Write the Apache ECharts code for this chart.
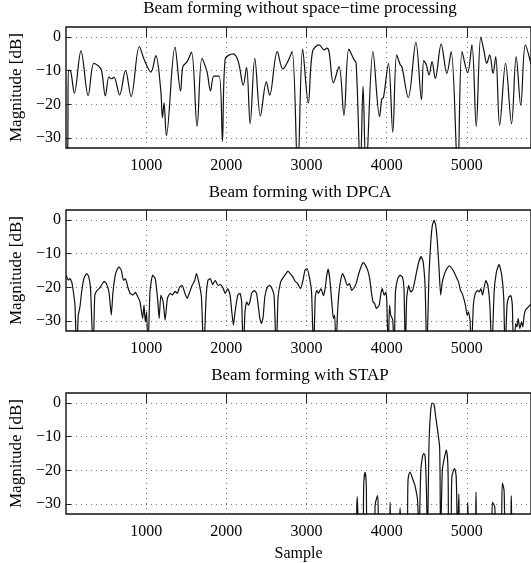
<!DOCTYPE html>
<html>
<head>
<meta charset="utf-8">
<script src="https://cdn.jsdelivr.net/npm/echarts@6/dist/echarts.min.js"></script>
<style>html,body{margin:0;padding:0;background:#fff;}#c{width:531px;height:563px;}</style>
</head>
<body>
<div id="c"></div>
<script>
const titles = [
  'Beam forming without space\u2212time processing',
  'Beam forming with DPCA',
  'Beam forming with STAP'
];
const xTicks = [1000, 2000, 3000, 4000, 5000];
const yTicks = [0, -10, -20, -30];
const xName = 'Sample';
const yName = 'Magnitude [dB]';

// [sample, dB]
const beamRaw = [[10,-40],[22,-33],[30,-9.8],[59,-10.2],[104,-16.7],[187,-4.1],[277,-17.4],[347,-7.8],[400,-8.5],[442,-9.8],[491,-17.5],[536,-11.8],[565,-12.4],[598,-11.9],[668,-17.2],[742,-10],[812,-17.7],[915,-2.8],[977,-6.8],[1059,-10.4],[1120,-5.5],[1182,-15.8],[1203,-24],[1223,-19.6],[1252,-29.3],[1359,-3],[1429,-16],[1458,-8.8],[1511,-7.3],[1565,-4.5],[1635,-26.6],[1696,-6.3],[1758,-10.3],[1803,-16],[1845,-11.6],[1910,-11.6],[1951,-31],[1985,-6.6],[2087,-5],[2149,-7.3],[2211,-14.3],[2252,-9],[2297,-25.8],[2355,-6.3],[2425,-23.5],[2499,-13.3],[2540,-17.3],[2635,-4.3],[2705,-9.5],[2766,-7.3],[2820,-4.3],[2890,-40],[2952,-3.6],[3022,-19.6],[3075,-4.3],[3158,-2.3],[3220,-3.8],[3253,-3.3],[3281,-4.3],[3335,-13.6],[3405,-8.8],[3467,-23.3],[3528,-3.6],[3590,-6.6],[3619,-7.8],[3672,-40],[3705,-14.6],[3742,-40],[3829,-4.3],[3911,-23.6],[3940,-18.3],[3960,-18],[4022,-7.8],[4076,-28.3],[4125,-5.3],[4170,-8.3],[4190,-8.8],[4269,-18],[4364,-1.6],[4434,-18.6],[4462,-7],[4495,-8.3],[4528,-11.3],[4565,-7.3],[4606,-12.3],[4680,-2.1],[4750,-10.8],[4804,-4.3],[4886,-40],[4940,-4.3],[5010,-10.6],[5063,-2.3],[5117,-26.6],[5174,0],[5215,-4.3],[5248,-7.8],[5285,-5.3],[5327,-10.8],[5360,-5.8],[5409,-26.3],[5483,-7.8],[5557,-25.8],[5615,-5.8],[5672,-20.3],[5730,-2.3],[5800,-8]];

const beamDPCA = [[0,-16.5],[9,-16.9],[30,-17.9],[50,-17.4],[71,-18.4],[92,-21.4],[112,-25.3],[133,-40],[153,-28.3],[174,-25.8],[195,-21.4],[223,-17.4],[256,-15.9],[281,-16.6],[306,-20.4],[339,-40],[359,-22.3],[388,-20.9],[413,-20.4],[442,-19.4],[475,-18.2],[503,-18.9],[536,-21.4],[565,-28.3],[586,-21.4],[619,-15.9],[660,-13.9],[689,-14.9],[717,-17.9],[742,-17.4],[771,-19.9],[800,-21.8],[833,-22.3],[866,-21.5],[895,-22.8],[923,-24.3],[956,-29.3],[973,-25.3],[989,-30.3],[1006,-27.3],[1022,-40],[1047,-21.4],[1080,-16.4],[1113,-17.4],[1142,-23.3],[1162,-29.3],[1183,-22.3],[1212,-24.3],[1236,-29.8],[1265,-23.3],[1298,-21.8],[1327,-22.3],[1360,-21.2],[1388,-21.8],[1417,-19.9],[1450,-19.4],[1483,-21.8],[1512,-23.3],[1541,-21.5],[1574,-19.4],[1607,-17.9],[1627,-15.9],[1656,-18.4],[1689,-22.8],[1718,-40],[1747,-23.3],[1771,-17.9],[1800,-17.4],[1829,-19.2],[1862,-17.9],[1895,-19.4],[1924,-19.2],[1953,-19.9],[1985,-21.8],[2018,-20.4],[2047,-22.3],[2068,-27.3],[2088,-31.3],[2109,-27.3],[2142,-22.3],[2171,-21.8],[2191,-24.3],[2212,-40],[2232,-27.3],[2253,-24.3],[2274,-25.3],[2294,-24.3],[2315,-21.8],[2348,-20.9],[2377,-21.8],[2397,-25.3],[2418,-29.3],[2438,-30.8],[2459,-28.8],[2480,-22.8],[2512,-19.9],[2541,-19.4],[2570,-20.4],[2595,-22.3],[2624,-40],[2644,-23.3],[2677,-18.4],[2706,-17.2],[2735,-16.2],[2768,-15.2],[2800,-16],[2829,-16.9],[2858,-18.2],[2890,-18.9],[2923,-20.4],[2952,-18.4],[2981,-14.9],[3006,-14.4],[3035,-16.9],[3063,-21.4],[3088,-40],[3109,-22.8],[3129,-20.9],[3150,-21.8],[3179,-20.4],[3212,-22.5],[3232,-20.4],[3253,-16.4],[3269,-14.6],[3290,-17.4],[3315,-24.3],[3335,-29.3],[3352,-28.3],[3368,-40],[3385,-28.3],[3405,-21.4],[3426,-17.9],[3450,-15.9],[3479,-17.4],[3508,-19.4],[3537,-18.9],[3562,-20.9],[3590,-20.2],[3619,-18.9],[3652,-15.9],[3681,-13.9],[3706,-12.6],[3734,-13.4],[3763,-14.9],[3788,-17.4],[3809,-21.4],[3829,-24.3],[3850,-24.8],[3870,-26.3],[3891,-25.8],[3907,-25.3],[3928,-21.8],[3944,-20.4],[3969,-22.3],[3990,-21.4],[4002,-24.3],[4019,-40],[4035,-25.3],[4051,-28.3],[4076,-29.8],[4093,-40],[4109,-21.4],[4138,-17.4],[4167,-16.4],[4196,-16.9],[4216,-20.4],[4233,-40],[4249,-23.3],[4274,-19.4],[4299,-21.4],[4323,-20.9],[4344,-18.9],[4373,-15.4],[4401,-12.4],[4430,-10.9],[4455,-12.4],[4480,-20.4],[4500,-40],[4529,-15.4],[4550,-6.5],[4570,-1.5],[4591,0],[4611,-1.5],[4632,-6.5],[4653,-14.4],[4673,-22.3],[4694,-18.4],[4723,-15.9],[4751,-14.4],[4784,-13.6],[4813,-14.4],[4838,-15.4],[4867,-16.9],[4896,-18.4],[4920,-20.9],[4941,-21.8],[4961,-23.3],[4982,-25.3],[5003,-28.3],[5019,-27.3],[5040,-29.8],[5056,-40],[5081,-25.3],[5105,-21.8],[5134,-20.9],[5155,-21.4],[5175,-20.4],[5196,-22.3],[5217,-19.9],[5237,-17.9],[5262,-19.4],[5287,-25.3],[5311,-40],[5340,-21.4],[5369,-15.4],[5402,-13.2],[5435,-16.4],[5460,-23.3],[5476,-40],[5501,-25.3],[5525,-22.8],[5550,-22.5],[5567,-25.3],[5583,-40],[5608,-30.8],[5624,-31.8],[5640,-29.3],[5661,-32.3],[5682,-30.3],[5698,-31.8],[5715,-28.3],[5731,-26.8],[5800,-25]];

const beamSTAP = [[0,-45],[3600,-45],[3632,-27.8],[3660,-40],[3700,-40],[3714,-24],[3730,-20.5],[3745,-24],[3755,-40],[3840,-40],[3858,-30],[3887,-27.5],[3911,-40],[4030,-40],[4043,-29.5],[4056,-40],[4150,-40],[4167,-31.2],[4187,-40],[4255,-40],[4266,-23],[4290,-20.5],[4323,-22.5],[4352,-24.5],[4385,-29],[4401,-40],[4426,-20],[4446,-16],[4463,-15],[4480,-16],[4496,-26],[4508,-40],[4529,-11],[4550,-2],[4570,0],[4591,-0.5],[4611,-4],[4640,-9],[4661,-13.5],[4673,-40],[4694,-20],[4714,-17],[4743,-14],[4764,-19],[4776,-40],[4800,-40],[4813,-22],[4846,-19.5],[4867,-22],[4883,-40],[4900,-27],[4912,-40],[5000,-40],[5011,-29.5],[5027,-40],[5105,-40],[5114,-26.5],[5130,-40],[5300,-40],[5320,-29.5],[5348,-31],[5361,-40],[5420,-40],[5443,-23.8],[5464,-26],[5484,-40],[5540,-40],[5554,-27.5],[5567,-40],[5800,-45]];

const seriesData = [beamRaw, beamDPCA, beamSTAP];
const smoothing = [0.35, 0.15, 0.3];

const FONT = 'Liberation Serif';
const tops = [27, 210, 393];
const minus = v => (v < 0 ? '\u2212' + (-v) : String(v));

const grids = [], xAxes = [], yAxes = [], series = [], graphics = [];
for (let i = 0; i < 3; i++) {
  grids.push({left: 66, top: tops[i], width: 470, height: 121, show: true, borderColor: '#111', borderWidth: 1.4, backgroundColor: 'transparent'});
  xAxes.push({
    type: 'value', gridIndex: i, min: 0, max: 5800, position: 'bottom',
    axisLine: {show: false},
    axisTick: {show: true, inside: true, length: 5, customValues: xTicks, lineStyle: {color: '#222'}},
    axisLabel: {customValues: xTicks, margin: 10, fontFamily: FONT, fontSize: 16, color: '#000', formatter: v => String(v)},
    splitLine: {show: true, lineStyle: {type: [1, 4], color: '#777', width: 1}},
    name: i === 2 ? xName : '', nameLocation: 'middle', nameGap: 32,
    nameTextStyle: {fontFamily: FONT, fontSize: 16, color: '#000'}
  });
  xAxes.push({
    type: 'value', gridIndex: i, min: 0, max: 5800, position: 'top',
    axisLine: {show: false},
    axisTick: {show: true, inside: true, length: 5, customValues: xTicks, lineStyle: {color: '#222'}},
    axisLabel: {show: false}, splitLine: {show: false}
  });
  yAxes.push({
    type: 'value', gridIndex: i, min: -33, max: 3,
    axisLine: {show: false},
    axisTick: {show: true, inside: true, length: 5, customValues: yTicks, lineStyle: {color: '#222'}},
    axisLabel: {customValues: yTicks, margin: 5, fontFamily: FONT, fontSize: 16, color: '#000', formatter: minus},
    splitLine: {show: true, lineStyle: {type: [1, 4], color: '#777', width: 1}},
    name: yName, nameLocation: 'middle', nameRotate: 90, nameGap: 38,
    nameTextStyle: {fontFamily: FONT, fontSize: 17, color: '#000'}
  });
  series.push({
    type: 'line', xAxisIndex: 2 * i, yAxisIndex: i, data: seriesData[i],
    showSymbol: false, symbol: 'none', smooth: smoothing[i], clip: true,
    lineStyle: {color: '#111', width: 1.2}, animation: false
  });
}
const titleY = [9, 192.5, 376];
for (let i = 0; i < 3; i++) {
  graphics.push({type: 'text', x: 300, y: titleY[i],
    style: {text: titles[i], textAlign: 'center', textVerticalAlign: 'middle',
      font: '17px "Liberation Serif"', fill: '#000'}});
}

const chart = echarts.init(document.getElementById('c'), null, {renderer: 'canvas'});
chart.setOption({
  animation: false,
  grid: grids, xAxis: xAxes, yAxis: yAxes, series: series,
  graphic: graphics
});
</script>
</body>
</html>
